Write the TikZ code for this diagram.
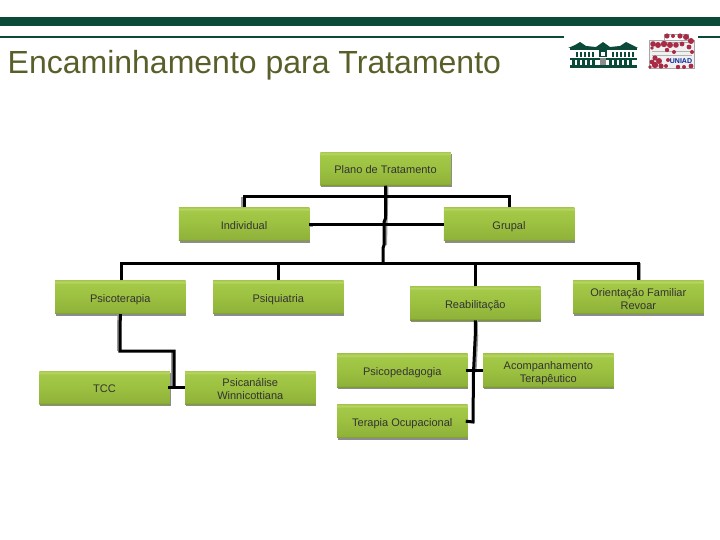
\documentclass[tikz,border=0pt]{standalone}
\usepackage{fontspec}
\usetikzlibrary{shadows}
\setmainfont{Liberation Sans}
\definecolor{dkgreen}{HTML}{0B4A38}
\definecolor{titlecol}{HTML}{5A5F2A}
\definecolor{lred}{HTML}{A82A45}
\definecolor{boxa}{HTML}{78962E}
\definecolor{boxb}{HTML}{8FB23A}
\definecolor{boxc}{HTML}{9CC040}
\definecolor{boxd}{HTML}{A4C847}
\definecolor{boxe}{HTML}{B6D663}
\definecolor{boxf}{HTML}{A8C850}
\pgfdeclareverticalshading{boxshade}{100bp}{
 color(0bp)=(boxa);
 color(25bp)=(boxa);
 color(28bp)=(boxb);
 color(50bp)=(boxc);
 color(70bp)=(boxd);
 color(72.5bp)=(boxe);
 color(75bp)=(boxf);
 color(100bp)=(boxf)}
\tikzset{
 box/.style={minimum width=130.5pt,minimum height=33.5pt,inner sep=0pt,align=center,
   font=\fontsize{11}{13}\selectfont,text=black!80,
   shade,shading=boxshade,
   general shadow={shadow xshift=.8pt,shadow yshift=-1.6pt,fill=black,opacity=.45},
   execute at begin node={\rule{0pt}{12.5pt}},
   execute at end node={\rule[-2.5pt]{0pt}{2.5pt}}},
 lowered/.style={execute at begin node={\rule{0pt}{#1}}},
 conn/.style={line width=3pt,black,line join=miter},
 connsh/.style={line width=3pt,black!40}
}
\begin{document}
\begin{tikzpicture}[x=1pt,y=-1pt]
\useasboundingbox (0,0) rectangle (720,540);
% header
\fill[dkgreen] (0,17) rectangle (720,26);
\fill[dkgreen] (0,36) rectangle (564,38);
\fill[dkgreen] (698,36) rectangle (720,38);
\node[anchor=base west,inner sep=0pt,text=titlecol,font=\fontsize{32}{36}\selectfont] (title) at (7.5,74) {Encaminhamento para Tratamento};
% building logo
\fill[dkgreen] (568,48) -- (575,45) -- (580,42) -- (586,46) -- (596,47) -- (603,42) -- (610,47) -- (620,46) -- (626,42) -- (632,45) -- (638,48) -- cycle;
\fill[dkgreen] (570,48) rectangle (637,50);
\foreach \x in {576,580,584,588,592,612,616,620,624,628,632}{\fill[dkgreen] (\x,52) rectangle ++(1.8,5);}
\fill[dkgreen] (599,50) rectangle (607,57);
\fill[white] (601,52) rectangle (605,56);
\fill[dkgreen] (570,58) rectangle (637,60);
\foreach \x in {572,577,582,587,592,609,614,619,624,629}{\fill[dkgreen] (\x,60) rectangle ++(3,5);}
\fill[black!45] (600,58) rectangle (606,67);
\fill[dkgreen] (570,65.5) rectangle (637,68);
% UNIAD logo
\fill[black!6] (649,40) rectangle (694,68);
\draw[black!35,line width=.7pt] (649,40) rectangle (694,68);
\draw[black!35,line width=.7pt] (664,34) rectangle (688,42);
\draw[black!30,line width=.6pt] (652,51) -- (692,51) (652,55) -- (692,55);
\foreach \x/\y/\r in {667/36/2.6,673/36/2,680/36/2.6,686/37/3,691/41/3,
   653/44/2.8,658/45/3,664/44/3.2,670/45/3,676/45/2.8,682/44/2.4,
   689/47/2.4,692/52/2,652/48/1.8,667/50/2.2,674/52/2,
   655/58/2.6,659/61/3,652/62/2.4,655/65/3.2,661/66/2.6,668/60/2,
   666/66/2,678/67/2.2,684/67/2,691/66/2.4,650/67/1.8}
  {\fill[lred] (\x,\y) circle (\r);}
\node[inner sep=0pt,font=\bfseries\fontsize{7}{8}\selectfont,text=dkgreen!50!blue] (uniad) at (681,61.5) {UNIAD};
% junctions
\coordinate (tk1) at (385.7,218);
\coordinate (tk2) at (384,222);
\coordinate (tk3) at (384,245);
\coordinate (tk4) at (383,248);
\coordinate (tk5) at (383,263.3);
\coordinate (bar1) at (385,196.7);
\coordinate (bar2) at (383,263.3);
\coordinate (pj1) at (120,351);
\coordinate (pj2) at (174,351);
\coordinate (pj3) at (174,388);
\coordinate (rj0) at (475.3,335);
\coordinate (rj1) at (473.5,372);
\coordinate (rj2) at (473,422);
% boxes
\node[box] (plano) at (385.5,168.8) {Plano de Tratamento};
\node[box] (individual) at (244,224.2) {Individual};
\node[box] (grupal) at (509,224.2) {Grupal};
\node[box] (psicoterapia) at (120.3,297.2) {Psicoterapia};
\node[box] (psiquiatria) at (278.3,297.2) {Psiquiatria};
\node[box] (reab) at (475.3,303.4) {Reabilitação};
\node[box,lowered=26.5pt] (orient) at (638.3,297.2) {Orientação Familiar\\Revoar};
\node[box] (tcc) at (104.5,387.8) {TCC};
\node[box,lowered=25.5pt] (psican) at (250.3,387.8) {Psicanálise\\Winnicottiana};
\node[box] (psicoped) at (402.3,370.7) {Psicopedagogia};
\node[box,lowered=25.7pt] (acomp) at (548.3,370.7) {Acompanhamento\\Terapêutico};
\node[box] (terapia) at (402.3,421.2) {Terapia Ocupacional};
% grey edges of the connectors
\draw[connsh,transform canvas={xshift=1.5pt}] (plano.south) -- (tk3);
\draw[connsh,transform canvas={xshift=-1.5pt}] (individual.north) -- (individual.north |- bar1);
\draw[connsh,transform canvas={xshift=1.5pt}] (orient.north) -- (orient.north |- bar2);
\draw[connsh,transform canvas={xshift=-1.5pt}] (psicoterapia.south) -- (pj1);
\draw[connsh,transform canvas={xshift=-1.5pt}] (pj2) -- (pj3);
\draw[connsh,transform canvas={xshift=1.5pt}] (reab.south) -- (rj0);
\draw[connsh,transform canvas={xshift=1.5pt}] (rj0) -- (rj1);
\draw[connsh,transform canvas={yshift=-1pt}] (individual.east) -- ++(4,0);
% connectors
\draw[conn] (plano.south) -- (tk1) -- (tk2) -- (tk3) -- (tk4) -- (tk5);
\draw[conn] (individual.north) |- (bar1) -| (grupal.north);
\draw[conn] (individual.east) -- (grupal.west);
\draw[conn] ([xshift=1.4pt]psicoterapia.north) |- (bar2) -| (orient.north);
\draw[conn] (psiquiatria.north) -- (psiquiatria.north |- bar2);
\draw[conn] (reab.north) -- (reab.north |- bar2);
\draw[conn] (psicoterapia.south) -- (pj1) -- (pj2) -- (pj3);
\draw[conn] ([xshift=-2pt]tcc.east) -- (psican.west);
\draw[conn] (reab.south) -- (rj0) -- (rj1) -- (rj2) -- ([xshift=-2pt]terapia.east);
\draw[conn] ([xshift=-2pt]psicoped.east) -- (acomp.west);
\end{tikzpicture}
\end{document}
